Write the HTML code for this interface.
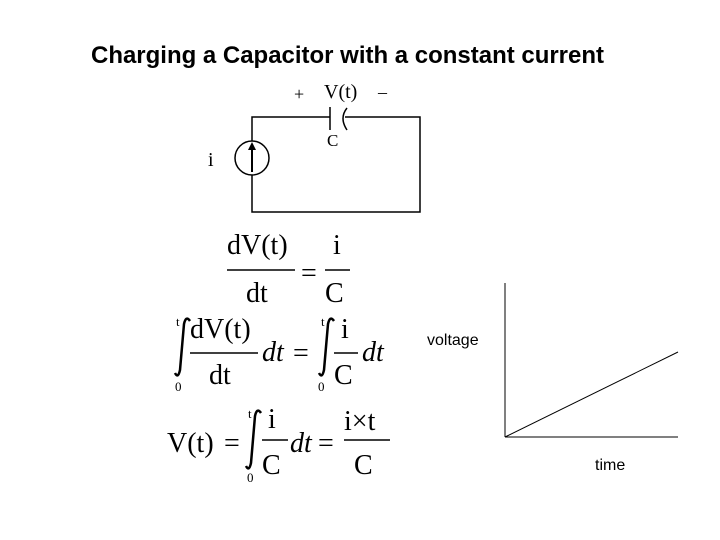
<!DOCTYPE html>
<html><head><style>
body{margin:0;background:#fff;}
svg{display:block}
.s{font-family:"Liberation Serif",serif;fill:#000}
.a{font-family:"Liberation Sans",sans-serif;fill:#000}
</style></head><body>
<svg width="720" height="540" viewBox="0 0 720 540">
<text class="a" x="91" y="63" font-size="24" font-weight="bold" textLength="513" lengthAdjust="spacingAndGlyphs">Charging a Capacitor with a constant current</text>
<g stroke="#000" stroke-width="1.5" fill="none">
<path d="M330 117 H252 V212 H420 V117 H345"/>
<line x1="330" y1="107" x2="330" y2="130"/>
<path d="M347 108 Q339 118 347 130"/>
<circle cx="252" cy="158" r="17" fill="#fff"/>
<line x1="252" y1="172" x2="252" y2="148" stroke-width="2"/>
</g>
<polygon points="252,142 248,150 256,150" fill="#000"/>
<text class="s" x="294" y="100" font-size="18">+</text>
<text class="s" x="324" y="98" font-size="20">V(t)</text>
<text class="s" x="378" y="98" font-size="18">–</text>
<text class="s" x="327" y="146" font-size="17">C</text>
<text class="s" x="208" y="166" font-size="20">i</text>

<g stroke="#000" stroke-width="1.5">
<line x1="227" y1="270" x2="295" y2="270"/>
<line x1="325" y1="270" x2="350" y2="270"/>
<line x1="190" y1="353" x2="258" y2="353"/>
<line x1="334" y1="353" x2="358" y2="353"/>
<line x1="262" y1="440" x2="288" y2="440"/>
<line x1="344" y1="440" x2="390" y2="440"/>
</g>
<g class="s" font-size="28">
<text x="227" y="254">dV(t)</text>
<text x="246" y="302">dt</text>
<text x="301" y="282">=</text>
<text x="333" y="254">i</text>
<text x="325" y="302">C</text>

<text x="190" y="338">dV(t)</text>
<text x="209" y="384">dt</text>
<text x="262" y="361" font-style="italic">dt</text>
<text x="293" y="362">=</text>
<text x="341" y="338">i</text>
<text x="334" y="384">C</text>
<text x="362" y="361" font-style="italic">dt</text>

<text x="167" y="452">V(t)</text>
<text x="224" y="452">=</text>
<text x="268" y="428">i</text>
<text x="262" y="474">C</text>
<text x="290" y="452" font-style="italic">dt</text>
<text x="318" y="452">=</text>
<text x="344" y="430">i×t</text>
<text x="354" y="474">C</text>
</g>
<g class="s" font-size="13">
<text x="176" y="326">t</text><text x="175" y="391">0</text>
<text x="321" y="326">t</text><text x="318" y="391">0</text>
<text x="248" y="418">t</text><text x="247" y="482">0</text>
</g>
<g fill="none" stroke="#000" stroke-width="2.5">
<path d="M190 321 Q186 315 184 324 L180 370 Q178 379 175 373"/>
<path d="M334 321 Q330 315 328 324 L324 370 Q322 379 319 373"/>
<path d="M261 413 Q257 407 255 416 L251 463 Q249 472 246 466"/>
</g>

<g stroke="#000" stroke-width="1">
<line x1="505" y1="283" x2="505" y2="437"/>
<line x1="505" y1="437" x2="678" y2="437"/>
<line x1="505" y1="437" x2="678" y2="352"/>
</g>
<text class="a" x="427" y="345" font-size="16">voltage</text>
<text class="a" x="595" y="470" font-size="16">time</text>
</svg>
</body></html>
